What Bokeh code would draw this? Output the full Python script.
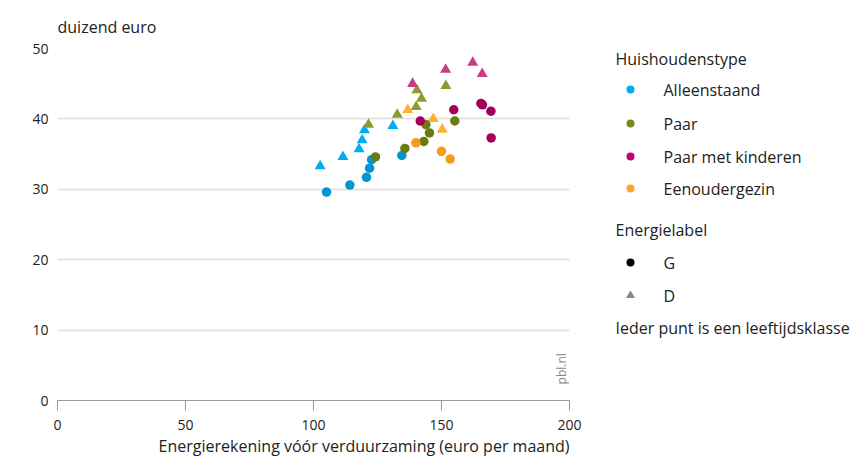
import math
from bokeh.plotting import figure
from bokeh.layouts import row
from bokeh.models import Range1d, FixedTicker, Label, Title
from bokeh.core.properties import value
from bokeh.embed import file_html
from bokeh.resources import INLINE

FONT = "Open Sans"

# ---- data (x: energy bill euro/month, y: thousand euro) ----
groups = ["Alleenstaand", "Paar", "Paar met kinderen", "Eenoudergezin"]

alleen_G_x = [105.1, 114.2, 120.7, 121.9, 122.7, 134.5]
alleen_G_y = [29.6, 30.6, 31.7, 33.0, 34.2, 34.8]
alleen_D_x = [102.6, 111.5, 117.8, 119.0, 119.9, 131.0]
alleen_D_y = [33.3, 34.6, 35.7, 37.0, 38.4, 39.0]

paar_G_x = [124.2, 135.7, 143.1, 145.3, 143.9, 155.2]
paar_G_y = [34.6, 35.8, 36.8, 38.0, 39.2, 39.7]
paar_D_x = [121.5, 132.7, 140.1, 142.2, 140.4, 151.7]
paar_D_y = [39.2, 40.6, 41.7, 42.9, 44.1, 44.7]

kind_G_x = [141.7, 154.8, 165.4, 166.0, 169.3, 169.4]
kind_G_y = [39.7, 41.3, 42.2, 42.0, 41.1, 37.3]
kind_D_x = [138.7, 151.6, 162.2, 165.9]
kind_D_y = [45.0, 47.0, 48.0, 46.4]

eenou_G_x = [140.0, 150.0, 153.4]
eenou_G_y = [36.6, 35.4, 34.3]
eenou_D_x = [136.8, 146.8, 150.3]
eenou_D_y = [41.3, 40.0, 38.5]

x_ticks = [0, 50, 100, 150, 200]
y_ticks = [0, 10, 20, 30, 40, 50]

x_title = "Energierekening vóór verduurzaming (euro per maand)"
y_title = "duizend euro"

legend_colors = ["#00AEEF", "#7B8B1E", "#C0007A", "#FFA520"]
G_colors = ["#0096CF", "#6B7B14", "#A3005B", "#F39C1C"]
D_colors = ["#00AEEF", "#8C9A2E", "#C83C88", "#FFB030"]

series = [
    (alleen_G_x, alleen_G_y, alleen_D_x, alleen_D_y),
    (paar_G_x, paar_G_y, paar_D_x, paar_D_y),
    (kind_G_x, kind_G_y, kind_D_x, kind_D_y),
    (eenou_G_x, eenou_G_y, eenou_D_x, eenou_D_y),
]

H = 460
W1 = 590
FRAME_TOP, FRAME_BOTTOM = 48, 400

# ---- main plot ----
p = figure(width=W1, height=H, output_backend="svg", toolbar_location=None,
           x_range=Range1d(0, 200), y_range=Range1d(0, 50),
           min_border_left=57, min_border_top=FRAME_TOP, min_border_right=W1 - 569,
           min_border_bottom=H - FRAME_BOTTOM)
p.outline_line_color = None
p.background_fill_color = "white"
p.border_fill_color = "white"

p.title.text = y_title
p.title.text_font = FONT
p.title.text_font_size = "16px"
p.title.text_font_style = "normal"
p.title.text_color = "#222222"
p.title.align = "left"
p.title.offset = 0
p.title.standoff = 22

p.xgrid.visible = False
p.ygrid.ticker = FixedTicker(ticks=[10, 20, 30, 40, 50])
p.ygrid.grid_line_color = "#dddddd"
p.ygrid.grid_line_width = 1.5

p.xaxis.ticker = FixedTicker(ticks=x_ticks)
p.yaxis.ticker = FixedTicker(ticks=y_ticks)
for ax in (p.xaxis[0], p.yaxis[0]):
    ax.major_label_text_font = FONT
    ax.major_label_text_font_size = "14px"
    ax.major_label_text_color = "#222222"
    ax.minor_tick_line_color = None
p.yaxis.axis_line_color = None
p.yaxis.major_tick_line_color = None
p.yaxis.major_tick_in = 0
p.yaxis.major_tick_out = 0
p.yaxis.major_label_standoff = 9
p.xaxis.axis_line_color = "#999999"
p.xaxis.major_tick_line_color = "#999999"
p.xaxis.major_tick_in = 0
p.xaxis.major_tick_out = 10
p.xaxis.major_label_standoff = 9

# x-axis title, right-aligned to the end of the axis
xt = Title(text=x_title, align="right", text_font=FONT, text_font_size="16px",
           text_font_style="normal", text_color="#222222", standoff=0, offset=0)
p.add_layout(xt, "below")

for (gx, gy, dx, dy), gc, dc in zip(series, G_colors, D_colors):
    p.scatter(x=dx, y=dy, marker="triangle", size=11, fill_color=dc, line_color=None)
for (gx, gy, dx, dy), gc, dc in zip(series, G_colors, D_colors):
    p.scatter(x=gx, y=gy, marker="circle", size=9.5, fill_color=gc, line_color=None)

p.add_layout(Label(x=196.8, y=4.5, text="pbl.nl", angle=math.pi / 2,
                   text_align="center", text_baseline="middle",
                   text_font=FONT, text_font_size="12px", text_color="#888888"))

# ---- legend panel (coordinates = page pixels; frame aligned with main frame) ----
W2 = 852 - W1
q = figure(width=W2, height=H, output_backend="svg", toolbar_location=None,
           x_range=Range1d(W1, 852), y_range=Range1d(FRAME_BOTTOM, FRAME_TOP),
           min_border=0, min_border_top=FRAME_TOP, min_border_bottom=H - FRAME_BOTTOM)
q.axis.visible = False
q.grid.visible = False
q.outline_line_color = None

ox, mx, tx = 615, 630, 663
q.text(x=[ox], y=[58], text=["Huishoudenstype"], text_font=value(FONT),
       text_font_size="16px", text_baseline="middle", text_color="#222222")
rows_y = [89, 123, 156, 188]
q.scatter(x=[mx] * 4, y=rows_y, marker="circle", size=8,
          fill_color=legend_colors, line_color=None)
q.text(x=[tx] * 4, y=rows_y, text=groups, text_font=value(FONT),
       text_font_size="16px", text_baseline="middle", text_color="#222222")
q.text(x=[ox], y=[229], text=["Energielabel"], text_font=value(FONT),
       text_font_size="16px", text_baseline="middle", text_color="#222222")
q.scatter(x=[mx], y=[262], marker="circle", size=8, fill_color="black", line_color=None)
q.scatter(x=[mx], y=[295], marker="triangle", size=9, fill_color="#888888", line_color=None)
q.text(x=[tx] * 2, y=[262, 295], text=["G", "D"], text_font=value(FONT),
       text_font_size="16px", text_baseline="middle", text_color="#222222")
q.text(x=[ox], y=[327], text=["Ieder punt is een leeftijdsklasse"], text_font=value(FONT),
       text_font_size="16px", text_baseline="middle", text_color="#222222")

layout = row(p, q)
open("out.html", "w").write(file_html(layout, INLINE))
